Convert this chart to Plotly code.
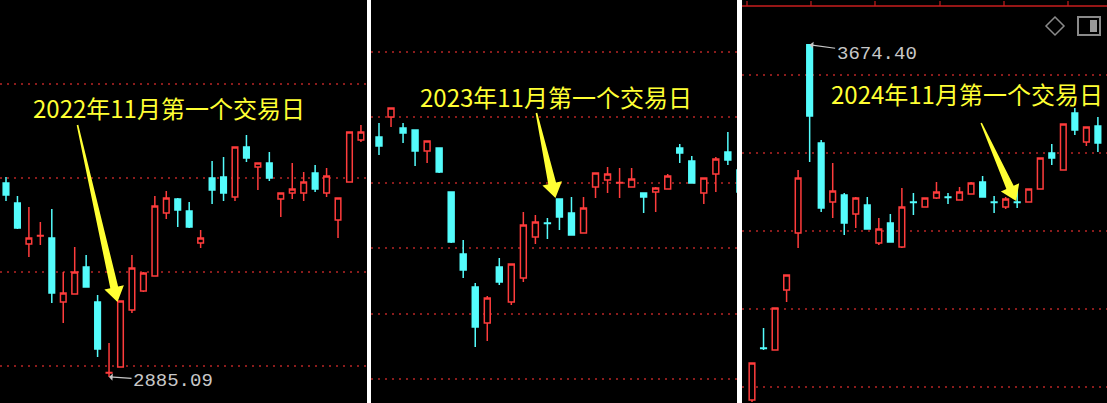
import math
import plotly.graph_objects as go

W, H = 1107, 403

# 2022 panel (daily bars around the Oct 2022 bottom)
open_22 = [3079, 3059, 3018, 3026, 3024, 2960, 2968, 2995, 2960, 2889, 2895, 2952, 2971, 2986, 3049, 3063,
           3051, 3019, 3084, 3085, 3065, 3115, 3095, 3099, 3063, 3069, 3069, 3089, 3069, 3042, 3080, 3122]
high_22 = [3085, 3066, 3055, 3040, 3053, 2990, 3015, 3007, 2967, 2919, 2961, 3007, 2990, 3066, 3071, 3064,
           3060, 3032, 3101, 3105, 3115, 3127, 3099, 3110, 3069, 3099, 3090, 3097, 3094, 3064, 3130, 3137]
low_22 = [3061, 3033, 3005, 3017, 2959, 2939, 2968, 2975, 2905, 2885.09, 2895, 2949, 2970, 2986, 3043, 3035,
          3034, 3014, 3058, 3061, 3061, 3100, 3072, 3081, 3045, 3063, 3061, 3070, 3065, 3024, 3080, 3120]
close_22 = [3067, 3034, 3024, 3026.5, 2969, 2969, 2990, 2975, 2913, 2889.5, 2961, 2994, 2989, 3056, 3064, 3052,
            3035, 3024, 3072, 3069, 3115, 3104, 3099, 3084, 3069, 3073, 3080, 3073, 3086, 3064, 3130, 3130]

# 2023 panel
open_23 = [3093, 3113, 3102, 3100, 3079, 3082, 3038, 2976, 2943, 2907, 2963, 2928, 2952, 2993, 3007, 3031,
           3017, 2997, 3043, 3050, 3047, 3043, 3037, 3038, 3041, 3082, 3069, 3037, 3056, 3078, 3060]
high_23 = [3107, 3122, 3107, 3100, 3089, 3082, 3038, 2990, 2947, 2934, 2972, 2966, 3018, 3015, 3012, 3031,
           3033, 3033, 3057, 3063, 3062, 3062, 3037, 3043, 3056, 3086, 3074, 3052, 3073, 3098, 3060]
low_23 = [3075, 3103, 3087, 3064, 3067, 3057, 2987, 2952, 2883, 2889, 2945, 2925, 2948, 2986, 2991, 3000,
          2995, 2997, 3032, 3037, 3032, 3043, 3017, 3018, 3041, 3067, 3047, 3026, 3038, 3065, 3038]
close_23 = [3084, 3122, 3097, 3079, 3089, 3058, 2988, 2960, 2903, 2932, 2948, 2966, 3005, 3008, 3006.5, 3013,
            2995, 3022, 3057, 3056, 3047.5, 3051, 3033, 3042, 3054, 3077, 3047, 3052, 3071, 3070, 3038]

# 2024 panel
open_24 = [2964, 3068, 3064, 3184, 3298, 3674.4, 3478, 3360, 3374, 3336, 3354, 3278, 3318, 3270, 3360, 3350,
           3368, 3370, 3364, 3376, 3400, 3360, 3350, 3360, 3360, 3386, 3458, 3424, 3538, 3480, 3512]
high_24 = [3038, 3108, 3148, 3214, 3424, 3674.4, 3484, 3438, 3378, 3370, 3370, 3328, 3336, 3388, 3378, 3368,
           3400, 3378, 3390, 3400, 3412, 3372, 3370, 3386, 3386, 3448, 3476, 3516, 3548, 3510, 3530]
low_24 = [2960, 3064, 3064, 3160, 3268, 3440, 3340, 3328, 3294, 3308, 3306, 3274, 3280, 3268, 3334, 3350,
          3366, 3356, 3364, 3376, 3370, 3338, 3346, 3348, 3360, 3386, 3434, 3424, 3494, 3472, 3460]
close_24 = [3038, 3067, 3148, 3214, 3408, 3532, 3348, 3382, 3318, 3368, 3306, 3306, 3280, 3350, 3359, 3368,
            3380, 3369, 3380, 3398, 3370, 3359, 3366, 3359, 3386, 3448, 3448, 3516, 3504, 3510, 3478]

labels = ["2022年11月第一个交易日", "2023年11月第一个交易日", "2024年11月第一个交易日"]
target_bar = [10, 15, 23]   # 11月第一个交易日 所在K线

grid_22 = [3178, 3084, 2990, 2896]
grid_23 = [3178, 3113, 3047, 2982, 2916, 2851]
grid_24 = [3614, 3458, 3302, 3146, 2990]

RED = "#ff3c3c"
CYAN = "#54fcfc"
YELLOW = "#ffff33"
GRID = "#8a1c1c"

panels = [
    (open_22, high_22, low_22, close_22, grid_22, [0, 367], [-0.524, 31.53], [2859, 3262]),
    (open_23, high_23, low_23, close_23, grid_23, [371, 737], [-0.665, 29.76], [2827, 3230]),
    (open_24, high_24, low_24, close_24, grid_24, [742, 1107], [-0.867, 30.79], [2958, 3764]),
]

fig = go.Figure()
layout = {}
for i, (o, h, l, c, grid, dom, xr, yr) in enumerate(panels, start=1):
    sfx = "" if i == 1 else str(i)
    fig.add_trace(go.Candlestick(
        x=list(range(len(o))), open=o, high=h, low=l, close=c,
        xaxis="x" + sfx, yaxis="y" + sfx,
        increasing=dict(line=dict(color=RED, width=1.5), fillcolor="#000000"),
        decreasing=dict(line=dict(color=CYAN, width=1.5), fillcolor=CYAN),
        showlegend=False, hoverinfo="none",
    ))
    layout["xaxis" + sfx] = dict(domain=[dom[0] / W, dom[1] / W], range=xr, anchor="y" + sfx,
                                  showgrid=False, zeroline=False, showticklabels=False,
                                  rangeslider=dict(visible=False), fixedrange=True)
    layout["yaxis" + sfx] = dict(domain=[0, 1], range=yr, anchor="x" + sfx, tickvals=grid,
                                  showticklabels=False, zeroline=False, showgrid=True,
                                  gridcolor=GRID, gridwidth=1.5, griddash="2px,5px", fixedrange=True)

fig.update_layout(**layout)


# 黄色箭头: 尖端落在目标K线上, 用像素偏移画楔形
def arrow_path(dx, dy, tip=(0, 0), head_len=15, head_w=10, w0=0.8, w1=4):
    L = math.hypot(dx, dy)
    ux, uy = dx / L, dy / L
    px, py = -uy, ux
    tx, ty = tip
    bx, by = tx + ux * head_len, ty + uy * head_len
    pts = [(tx, ty),
           (bx + px * head_w, by + py * head_w),
           (bx + px * w1, by + py * w1),
           (tx + dx + px * w0, ty + dy + py * w0),
           (tx + dx - px * w0, ty + dy - py * w0),
           (bx - px * w1, by - py * w1),
           (bx - px * head_w, by - py * head_w)]
    return "M " + " L ".join(f"{x:.1f},{y:.1f}" for x, y in pts) + " Z"


arrows = [((-40, 177), (-3, -1)), ((-19, 85), (-4, 1)), ((-35, 78), (-1, 1))]
for i, ((dx, dy), tip) in enumerate(arrows):
    sfx = "" if i == 0 else str(i + 1)
    idx = target_bar[i]
    top = max(panels[i][0][idx], panels[i][3][idx])
    fig.add_shape(type="path", xref="x" + sfx, yref="y" + sfx,
                  xsizemode="pixel", ysizemode="pixel", xanchor=idx, yanchor=top,
                  path=arrow_path(dx, dy, tip), fillcolor=YELLOW, line=dict(width=0))

# 黄色文字
label_pos = [(31, 108), (418, 96), (829, 94)]
for text, (px_, py_) in zip(labels, label_pos):
    fig.add_annotation(text=text, xref="paper", yref="paper", x=px_ / W, y=1 - py_ / H,
                       xanchor="left", yanchor="middle", showarrow=False,
                       font=dict(family="Noto Sans CJK SC", size=24, color=YELLOW))

# 最低/最高价标注
i_low = low_22.index(min(low_22))
fig.add_annotation(x=i_low, y=low_22[i_low], xref="x", yref="y", text=f"{low_22[i_low]:.2f}",
                   showarrow=True, arrowhead=1, arrowsize=1, arrowwidth=1.2, arrowcolor="#c8c8c8",
                   ax=64, ay=4, font=dict(family="Liberation Mono", size=19, color="#c8c8c8"))
i_high = high_24.index(max(high_24))
fig.add_annotation(x=i_high, y=high_24[i_high], xref="x3", yref="y3", text=f"{high_24[i_high]:.2f}",
                   showarrow=True, arrowhead=1, arrowsize=1, arrowwidth=1.2, arrowcolor="#c8c8c8",
                   ax=67, ay=9, font=dict(family="Liberation Mono", size=19, color="#c8c8c8"))

# 第三幅顶部的红线与小图标
fig.add_shape(type="line", xref="paper", yref="paper", x0=742 / W, x1=1, y0=1 - 6 / H, y1=1 - 6 / H,
              line=dict(color="#c81e1e", width=1.5))
for tx in [747, 811, 875, 940, 1004, 1068]:
    fig.add_shape(type="line", xref="paper", yref="paper", x0=tx / W, x1=tx / W,
                  y0=1 - 6 / H, y1=1 - 1 / H, line=dict(color="#c81e1e", width=1.2))
fig.add_shape(type="path", xref="paper", yref="paper", xsizemode="pixel", ysizemode="pixel",
              xanchor=1055 / W, yanchor=1 - 26 / H, path="M 0,9 L 9,0 L 0,-9 L -9,0 Z",
              line=dict(color="#8a8a8a", width=1.5))
fig.add_shape(type="rect", xref="paper", yref="paper", x0=1078 / W, x1=1100 / W,
              y0=1 - 35 / H, y1=1 - 17 / H, line=dict(color="#8a8a8a", width=2))
fig.add_shape(type="rect", xref="paper", yref="paper", x0=1090 / W, x1=1097 / W,
              y0=1 - 32 / H, y1=1 - 20 / H, fillcolor="#9a9a9a", line=dict(width=0))

fig.update_layout(width=W, height=H, margin=dict(l=0, r=0, t=0, b=0),
                  paper_bgcolor="#ffffff", plot_bgcolor="#000000", showlegend=False)

# 去掉页面默认的8px边距, 不显示工具栏
fig.write_html("out.html", config={"displayModeBar": False},
               post_script="document.body.style.margin='0px';")
